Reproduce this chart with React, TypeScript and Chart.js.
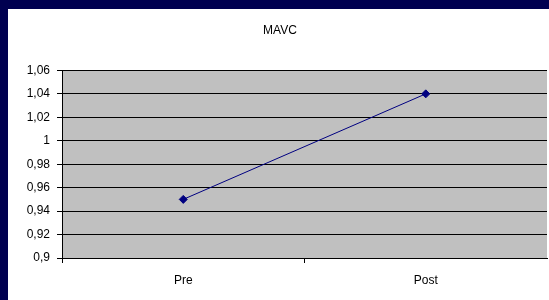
import React, { useEffect, useRef } from "react";
import { Chart, registerables } from "chart.js";

Chart.register(...registerables);

const categories = ["Pre", "Post"];
const mavcValues = [0.95, 1.04];
const yMin = 0.9;
const yMax = 1.06;
const yStep = 0.02;
const chartTitle = "MAVC";

const FONT = "'Liberation Sans', Arial, sans-serif";

const bgPlugin = {
  id: "bgPlugin",
  beforeDraw(chart: any) {
    const { ctx, chartArea, width, height } = chart;
    ctx.save();
    ctx.fillStyle = "#ffffff";
    ctx.fillRect(0, 0, width, height);
    ctx.fillStyle = "#c0c0c0";
    ctx.fillRect(chartArea.left, chartArea.top, chartArea.right - chartArea.left, chartArea.bottom - chartArea.top);
    ctx.restore();
  },
};

export default function App() {
  const ref = useRef<HTMLCanvasElement>(null);

  useEffect(() => {
    if (!ref.current) return;
    const chart = new Chart(ref.current, {
      type: "line",
      data: {
        labels: categories,
        datasets: [
          {
            label: chartTitle,
            data: mavcValues,
            borderColor: "#000080",
            backgroundColor: "#000080",
            borderWidth: 1,
            pointStyle: "rectRot",
            pointRadius: 4,
            pointBackgroundColor: "#000080",
            pointBorderColor: "#000080",
            tension: 0,
            fill: false,
          },
        ],
      },
      options: {
        animation: false,
        responsive: false,
        devicePixelRatio: 1,
        layout: { padding: 0 },
        plugins: {
          legend: { display: false },
          tooltip: { enabled: false },
          title: {
            display: true,
            text: chartTitle,
            color: "#000",
            font: { family: FONT, size: 12, weight: "normal" },
            padding: { top: 14, bottom: 33 },
          },
        },
        scales: {
          x: {
            type: "category",
            offset: true,
            grid: {
              display: true,
              drawOnChartArea: false,
              drawTicks: true,
              tickLength: 5,
              color: (c: any) => (c.type === "tick" ? "#000" : "rgba(0,0,0,0)"),
              offset: true,
            },
            border: { display: true, color: "#000", width: 1 },
            ticks: {
              color: "#000",
              font: { family: FONT, size: 12 },
              padding: 10,
              maxRotation: 0,
            },
            afterFit(scale: any) {
              scale.height = 42;
            },
          },
          y: {
            min: yMin,
            max: yMax,
            grid: {
              display: true,
              drawOnChartArea: true,
              drawTicks: true,
              tickLength: 5,
              color: "#000",
            },
            border: { display: true, color: "#000", width: 1 },
            ticks: {
              stepSize: yStep,
              color: "#000",
              font: { family: FONT, size: 12 },
              padding: 7,
              callback: (v: any) => String(Number(Number(v).toFixed(2))).replace(".", ","),
            },
            afterFit(scale: any) {
              scale.width = 54;
            },
          },
        },
      },
      plugins: [bgPlugin],
    } as any);
    return () => chart.destroy();
  }, []);

  return (
    <div
      style={{
        position: "fixed",
        left: 0,
        top: 0,
        width: 549,
        height: 300,
        background: "#000050",
        overflow: "hidden",
      }}
    >
      <canvas
        ref={ref}
        width={544}
        height={291}
        style={{ position: "absolute", left: 8, top: 9, display: "block" }}
      />
    </div>
  );
}
